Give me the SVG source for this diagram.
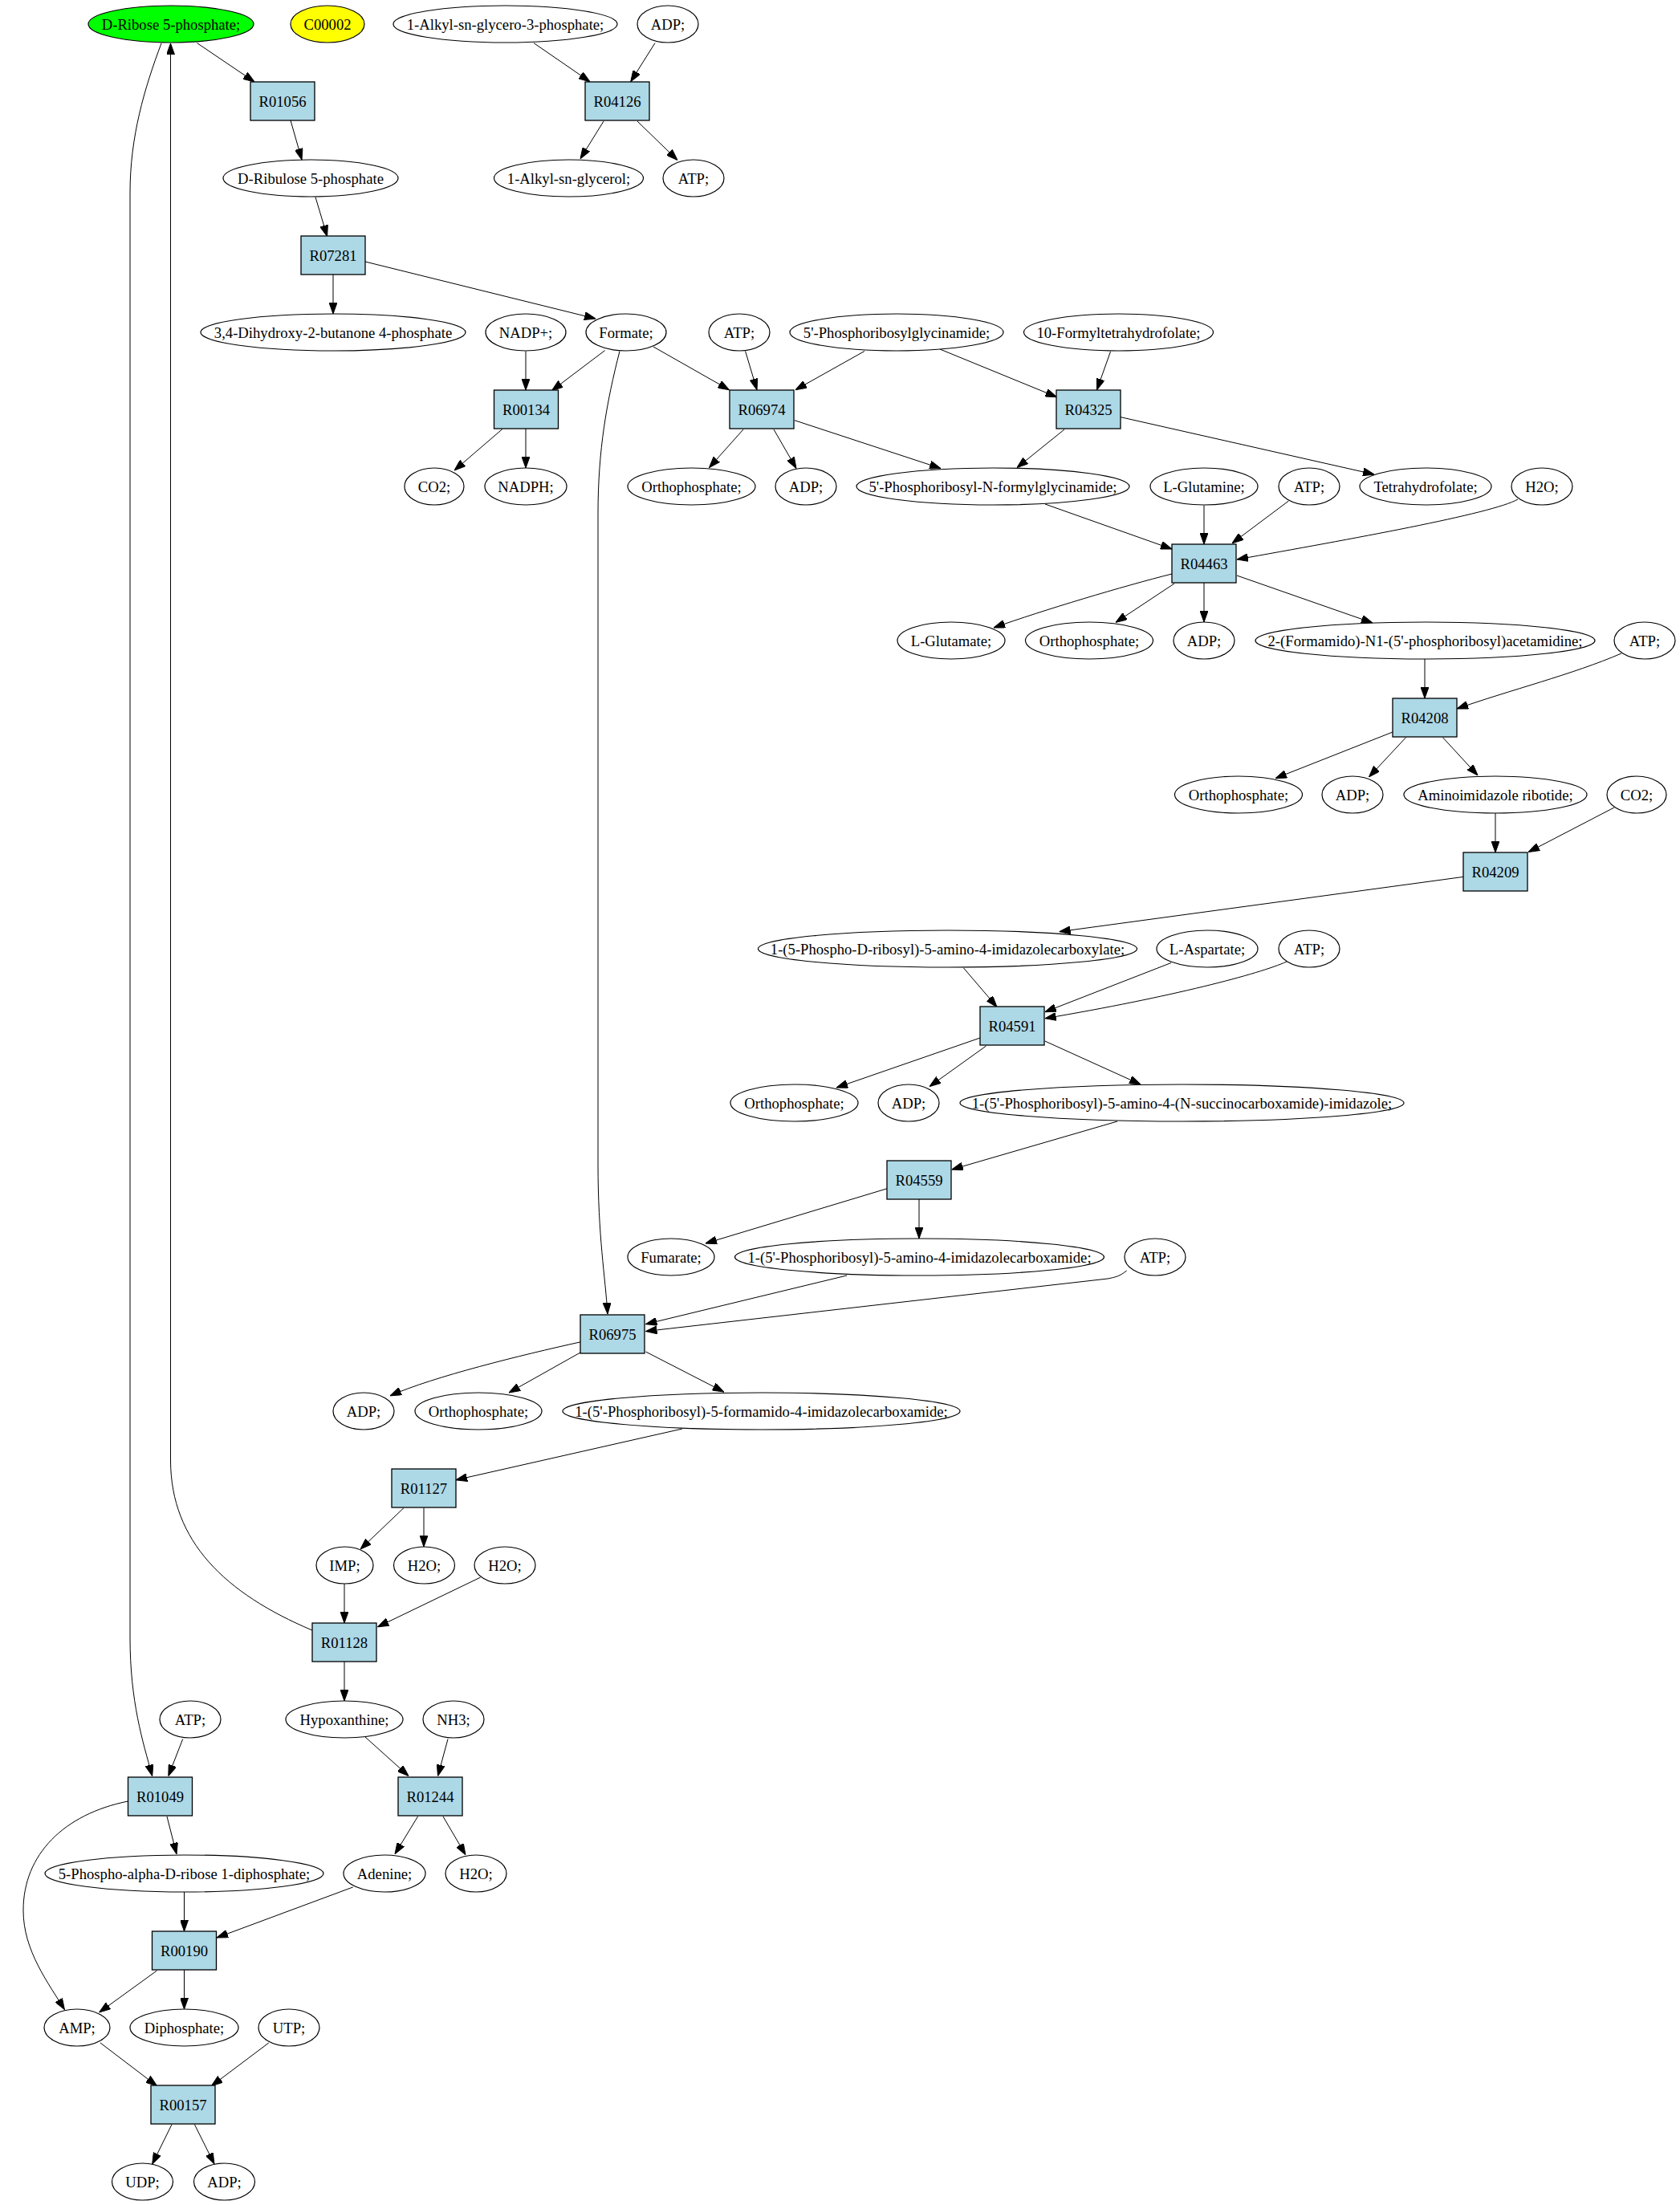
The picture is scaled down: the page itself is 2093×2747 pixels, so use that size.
<svg xmlns="http://www.w3.org/2000/svg" width="2093" height="2747" viewBox="0 0 2093 2747">
<style>
.n ellipse{fill:#ffffff;stroke:#000;stroke-width:1.2}
.r rect{fill:#add8e6;stroke:#000;stroke-width:1.3}
text{font-family:"Liberation Serif","Times New Roman",serif;font-size:18.67px;text-anchor:middle;fill:#000}
#edges path{fill:none;stroke:#000;stroke-width:1;marker-end:url(#ah)}
</style>
<defs>
<marker id="ah" markerUnits="userSpaceOnUse" markerWidth="14" markerHeight="10" viewBox="0 0 14 10" refX="14" refY="5" orient="auto">
<path d="M0,0 L14,5 L0,10 z" fill="#000" stroke="#000" stroke-width="1"/>
</marker>
</defs>
<rect x="0" y="0" width="2093" height="2747" fill="#ffffff"/>
<g id="edges">
<path d="M245.5,53.6 L317,102"/>
<path d="M362,150 L376,199"/>
<path d="M393,245.5 L407.6,294.6"/>
<path d="M415,342 L415,391"/>
<path d="M455,326 L742,397"/>
<path d="M655,437.5 L655,486"/>
<path d="M753.6,436.6 L687.5,486.6"/>
<path d="M814,432 L908.5,485.7"/>
<path d="M772,437.5 C756,500 745,560 745,640 L745,1450 C745,1540 754,1590 757,1637"/>
<path d="M626,534.4 L566,586"/>
<path d="M655,534 L655,583"/>
<path d="M928.6,437.5 L943,485.7"/>
<path d="M1077,437.5 L991,485.7"/>
<path d="M1171,435 L1316.5,494.6"/>
<path d="M1383.5,438 L1366.5,485.7"/>
<path d="M1396,519.6 L1712,591"/>
<path d="M926,535 L883.5,582.6"/>
<path d="M964,535 L992,583.5"/>
<path d="M990,523.7 L1172,583.5"/>
<path d="M1326,535 L1267,582.6"/>
<path d="M1302,628 L1460,684"/>
<path d="M1500,629.5 L1500,678"/>
<path d="M1605.5,624 L1535,676.8"/>
<path d="M1891,622 C1860,640 1680,672 1541,697"/>
<path d="M1460,715 C1400,730 1300,760 1238,782"/>
<path d="M1463,727 L1390,775.4"/>
<path d="M1500,726 L1500,775"/>
<path d="M1541,717 L1710,776"/>
<path d="M1775,821 L1775,870"/>
<path d="M2020,814 C1960,840 1880,860 1815,883"/>
<path d="M1735,912 L1589,969.6"/>
<path d="M1751.5,918.75 L1705.5,968"/>
<path d="M1797.5,918.75 L1841,966"/>
<path d="M1863,1013 L1863,1062"/>
<path d="M2011,1006 L1904,1061.6"/>
<path d="M1823,1092.4 L1319.6,1160.7"/>
<path d="M1200.4,1205.8 L1242,1254.5"/>
<path d="M1459,1199.5 L1301.8,1260.7"/>
<path d="M1603,1198 C1570,1213 1460,1242 1301.8,1268.75"/>
<path d="M1221.4,1292.9 L1042,1355"/>
<path d="M1228.6,1303 L1158,1353.6"/>
<path d="M1301.8,1297 L1421,1351"/>
<path d="M1392,1397 L1185.7,1457"/>
<path d="M1105,1480.8 L879,1549"/>
<path d="M1145,1494 L1145,1543"/>
<path d="M1055,1589 L804.5,1649.6"/>
<path d="M1403.6,1583 C1395,1590 1390,1591 1380,1593 L804.5,1658.5"/>
<path d="M723,1671.9 C650,1688 540,1715 486,1738.8"/>
<path d="M723,1685 L634,1735"/>
<path d="M804.5,1684 L901.8,1734"/>
<path d="M850,1780 L568,1843.75"/>
<path d="M503,1878.6 L449,1930"/>
<path d="M528,1878.6 L528,1927"/>
<path d="M429,1973 L429,2022"/>
<path d="M598.7,1965 L470.5,2026.8"/>
<path d="M389,2031 C280,1985 213,1920 212.5,1820 L212.5,54"/>
<path d="M201,54 C180,110 162,170 162,240 L162,2040 C162,2120 178,2170 189.7,2212.5"/>
<path d="M227.7,2166.5 L209.8,2212.5"/>
<path d="M208,2263 L220,2309.8"/>
<path d="M159.4,2244 C80,2260 29,2310 29,2380 C29,2430 60,2470 80.4,2503.6"/>
<path d="M429,2070 L429,2119"/>
<path d="M455,2164 L509,2212.5"/>
<path d="M558,2166.5 L545.5,2212.5"/>
<path d="M520.5,2263 L492,2309.8"/>
<path d="M552,2263 L580,2310.7"/>
<path d="M229.5,2357 L229.5,2406"/>
<path d="M439.7,2351 L270,2414"/>
<path d="M195.5,2455 L123.7,2507"/>
<path d="M229.5,2454 L229.5,2503"/>
<path d="M125,2545 L195.5,2598.7"/>
<path d="M334.8,2545 L263.4,2598.7"/>
<path d="M214,2646.7 L189.7,2696"/>
<path d="M242.4,2646.7 L267,2696"/>
<path d="M665,53.6 L735,101.8"/>
<path d="M816,53.6 L785.7,101.8"/>
<path d="M752,151 L723,197.8"/>
<path d="M794,151 L844,199.5"/>
</g>
<g id="n_dribose" class="n"><ellipse cx="213" cy="30" rx="103" ry="23" style="fill:#00ff00"/><text x="213" y="36.5">D-Ribose 5-phosphate;</text></g>
<g id="n_c00002" class="n"><ellipse cx="408" cy="30" rx="46" ry="23" style="fill:#ffff00"/><text x="408" y="36.5">C00002</text></g>
<g id="n_alkylg3p" class="n"><ellipse cx="629.5" cy="30" rx="139.5" ry="23"/><text x="629.5" y="36.5">1-Alkyl-sn-glycero-3-phosphate;</text></g>
<g id="n_adp1" class="n"><ellipse cx="832" cy="30" rx="38" ry="23"/><text x="832" y="36.5">ADP;</text></g>
<g id="n_dribulose" class="n"><ellipse cx="387" cy="222" rx="109" ry="23"/><text x="387" y="228.5">D-Ribulose 5-phosphate</text></g>
<g id="n_alkylgly" class="n"><ellipse cx="708.5" cy="222" rx="93" ry="23"/><text x="708.5" y="228.5">1-Alkyl-sn-glycerol;</text></g>
<g id="n_atp1" class="n"><ellipse cx="864" cy="222" rx="38" ry="23"/><text x="864" y="228.5">ATP;</text></g>
<g id="n_dihydroxy" class="n"><ellipse cx="415" cy="414" rx="165" ry="23"/><text x="415" y="420.5">3,4-Dihydroxy-2-butanone 4-phosphate</text></g>
<g id="n_nadp" class="n"><ellipse cx="655" cy="414" rx="50" ry="23"/><text x="655" y="420.5">NADP+;</text></g>
<g id="n_formate" class="n"><ellipse cx="780" cy="414" rx="50" ry="23"/><text x="780" y="420.5">Formate;</text></g>
<g id="n_atp2" class="n"><ellipse cx="921" cy="414" rx="38" ry="23"/><text x="921" y="420.5">ATP;</text></g>
<g id="n_prg" class="n"><ellipse cx="1117" cy="414" rx="133" ry="23"/><text x="1117" y="420.5">5'-Phosphoribosylglycinamide;</text></g>
<g id="n_10f" class="n"><ellipse cx="1393.5" cy="414" rx="118" ry="23"/><text x="1393.5" y="420.5">10-Formyltetrahydrofolate;</text></g>
<g id="n_co2" class="n"><ellipse cx="541" cy="606" rx="37" ry="23"/><text x="541" y="612.5">CO2;</text></g>
<g id="n_nadph" class="n"><ellipse cx="655" cy="606" rx="51" ry="23"/><text x="655" y="612.5">NADPH;</text></g>
<g id="n_ortho1" class="n"><ellipse cx="861.5" cy="606" rx="79.5" ry="23"/><text x="861.5" y="612.5">Orthophosphate;</text></g>
<g id="n_adp2" class="n"><ellipse cx="1004" cy="606" rx="38" ry="23"/><text x="1004" y="612.5">ADP;</text></g>
<g id="n_fgar" class="n"><ellipse cx="1237" cy="606" rx="170" ry="23"/><text x="1237" y="612.5">5'-Phosphoribosyl-N-formylglycinamide;</text></g>
<g id="n_gln" class="n"><ellipse cx="1500" cy="606" rx="67" ry="23"/><text x="1500" y="612.5">L-Glutamine;</text></g>
<g id="n_atp3" class="n"><ellipse cx="1631" cy="606" rx="38" ry="23"/><text x="1631" y="612.5">ATP;</text></g>
<g id="n_thf" class="n"><ellipse cx="1776" cy="606" rx="82" ry="23"/><text x="1776" y="612.5">Tetrahydrofolate;</text></g>
<g id="n_h2o1" class="n"><ellipse cx="1921" cy="606" rx="38" ry="23"/><text x="1921" y="612.5">H2O;</text></g>
<g id="n_glu" class="n"><ellipse cx="1185" cy="798" rx="67" ry="23"/><text x="1185" y="804.5">L-Glutamate;</text></g>
<g id="n_ortho2" class="n"><ellipse cx="1357" cy="798" rx="79.5" ry="23"/><text x="1357" y="804.5">Orthophosphate;</text></g>
<g id="n_adp3" class="n"><ellipse cx="1500" cy="798" rx="38" ry="23"/><text x="1500" y="804.5">ADP;</text></g>
<g id="n_fgam" class="n"><ellipse cx="1775.5" cy="798" rx="211.5" ry="23"/><text x="1775.5" y="804.5">2-(Formamido)-N1-(5'-phosphoribosyl)acetamidine;</text></g>
<g id="n_atp4" class="n"><ellipse cx="2049" cy="798" rx="38" ry="23"/><text x="2049" y="804.5">ATP;</text></g>
<g id="n_ortho3" class="n"><ellipse cx="1543" cy="990" rx="79.5" ry="23"/><text x="1543" y="996.5">Orthophosphate;</text></g>
<g id="n_adp4" class="n"><ellipse cx="1685" cy="990" rx="38" ry="23"/><text x="1685" y="996.5">ADP;</text></g>
<g id="n_air" class="n"><ellipse cx="1863" cy="990" rx="114" ry="23"/><text x="1863" y="996.5">Aminoimidazole ribotide;</text></g>
<g id="n_co2b" class="n"><ellipse cx="2039" cy="990" rx="37" ry="23"/><text x="2039" y="996.5">CO2;</text></g>
<g id="n_cair" class="n"><ellipse cx="1180.5" cy="1182" rx="236" ry="23"/><text x="1180.5" y="1188.5">1-(5-Phospho-D-ribosyl)-5-amino-4-imidazolecarboxylate;</text></g>
<g id="n_asp" class="n"><ellipse cx="1504" cy="1182" rx="63" ry="23"/><text x="1504" y="1188.5">L-Aspartate;</text></g>
<g id="n_atp5" class="n"><ellipse cx="1631" cy="1182" rx="38" ry="23"/><text x="1631" y="1188.5">ATP;</text></g>
<g id="n_ortho4" class="n"><ellipse cx="989.5" cy="1374" rx="79.5" ry="23"/><text x="989.5" y="1380.5">Orthophosphate;</text></g>
<g id="n_adp5" class="n"><ellipse cx="1132" cy="1374" rx="38" ry="23"/><text x="1132" y="1380.5">ADP;</text></g>
<g id="n_saicar" class="n"><ellipse cx="1472.5" cy="1374" rx="276.5" ry="23"/><text x="1472.5" y="1380.5">1-(5'-Phosphoribosyl)-5-amino-4-(N-succinocarboxamide)-imidazole;</text></g>
<g id="n_fum" class="n"><ellipse cx="836" cy="1566" rx="54" ry="23"/><text x="836" y="1572.5">Fumarate;</text></g>
<g id="n_aicar" class="n"><ellipse cx="1145.5" cy="1566" rx="230" ry="23"/><text x="1145.5" y="1572.5">1-(5'-Phosphoribosyl)-5-amino-4-imidazolecarboxamide;</text></g>
<g id="n_atp6" class="n"><ellipse cx="1439" cy="1566" rx="38" ry="23"/><text x="1439" y="1572.5">ATP;</text></g>
<g id="n_adp6" class="n"><ellipse cx="453" cy="1758" rx="38" ry="23"/><text x="453" y="1764.5">ADP;</text></g>
<g id="n_ortho5" class="n"><ellipse cx="596" cy="1758" rx="79" ry="23"/><text x="596" y="1764.5">Orthophosphate;</text></g>
<g id="n_faicar" class="n"><ellipse cx="948.5" cy="1758" rx="247.5" ry="23"/><text x="948.5" y="1764.5">1-(5'-Phosphoribosyl)-5-formamido-4-imidazolecarboxamide;</text></g>
<g id="n_imp" class="n"><ellipse cx="429.5" cy="1950" rx="35.5" ry="23"/><text x="429.5" y="1956.5">IMP;</text></g>
<g id="n_h2o2" class="n"><ellipse cx="528.5" cy="1950" rx="38" ry="23"/><text x="528.5" y="1956.5">H2O;</text></g>
<g id="n_h2o3" class="n"><ellipse cx="629" cy="1950" rx="38" ry="23"/><text x="629" y="1956.5">H2O;</text></g>
<g id="n_hyp" class="n"><ellipse cx="429" cy="2142" rx="73" ry="23"/><text x="429" y="2148.5">Hypoxanthine;</text></g>
<g id="n_nh3" class="n"><ellipse cx="565" cy="2142" rx="38" ry="23"/><text x="565" y="2148.5">NH3;</text></g>
<g id="n_atp7" class="n"><ellipse cx="237" cy="2142" rx="38" ry="23"/><text x="237" y="2148.5">ATP;</text></g>
<g id="n_prpp" class="n"><ellipse cx="229.5" cy="2334" rx="173.5" ry="23"/><text x="229.5" y="2340.5">5-Phospho-alpha-D-ribose 1-diphosphate;</text></g>
<g id="n_ade" class="n"><ellipse cx="479" cy="2334" rx="51" ry="23"/><text x="479" y="2340.5">Adenine;</text></g>
<g id="n_h2o4" class="n"><ellipse cx="593" cy="2334" rx="38" ry="23"/><text x="593" y="2340.5">H2O;</text></g>
<g id="n_amp" class="n"><ellipse cx="96" cy="2526" rx="41" ry="23"/><text x="96" y="2532.5">AMP;</text></g>
<g id="n_ppi" class="n"><ellipse cx="229.5" cy="2526" rx="67.5" ry="23"/><text x="229.5" y="2532.5">Diphosphate;</text></g>
<g id="n_utp" class="n"><ellipse cx="360" cy="2526" rx="38" ry="23"/><text x="360" y="2532.5">UTP;</text></g>
<g id="n_udp" class="n"><ellipse cx="177.5" cy="2718" rx="38" ry="23"/><text x="177.5" y="2724.5">UDP;</text></g>
<g id="n_adp7" class="n"><ellipse cx="279.5" cy="2718" rx="38" ry="23"/><text x="279.5" y="2724.5">ADP;</text></g>
<g id="R01056" class="r"><rect x="312" y="102" width="80" height="48"/><text x="352" y="132.5">R01056</text></g>
<g id="R04126" class="r"><rect x="729" y="102" width="80" height="48"/><text x="769" y="132.5">R04126</text></g>
<g id="R07281" class="r"><rect x="375" y="294" width="80" height="48"/><text x="415" y="324.5">R07281</text></g>
<g id="R00134" class="r"><rect x="615.5" y="486" width="80" height="48"/><text x="655.5" y="516.5">R00134</text></g>
<g id="R06974" class="r"><rect x="909" y="486" width="80" height="48"/><text x="949" y="516.5">R06974</text></g>
<g id="R04325" class="r"><rect x="1316" y="486" width="80" height="48"/><text x="1356" y="516.5">R04325</text></g>
<g id="R04463" class="r"><rect x="1460" y="678" width="80" height="48"/><text x="1500" y="708.5">R04463</text></g>
<g id="R04208" class="r"><rect x="1735" y="870" width="80" height="48"/><text x="1775" y="900.5">R04208</text></g>
<g id="R04209" class="r"><rect x="1823" y="1062" width="80" height="48"/><text x="1863" y="1092.5">R04209</text></g>
<g id="R04591" class="r"><rect x="1221" y="1254" width="80" height="48"/><text x="1261" y="1284.5">R04591</text></g>
<g id="R04559" class="r"><rect x="1105" y="1446" width="80" height="48"/><text x="1145" y="1476.5">R04559</text></g>
<g id="R06975" class="r"><rect x="723" y="1638" width="80" height="48"/><text x="763" y="1668.5">R06975</text></g>
<g id="R01127" class="r"><rect x="488" y="1830" width="80" height="48"/><text x="528" y="1860.5">R01127</text></g>
<g id="R01128" class="r"><rect x="389" y="2022" width="80" height="48"/><text x="429" y="2052.5">R01128</text></g>
<g id="R01049" class="r"><rect x="159.5" y="2214" width="80" height="48"/><text x="199.5" y="2244.5">R01049</text></g>
<g id="R01244" class="r"><rect x="496" y="2214" width="80" height="48"/><text x="536" y="2244.5">R01244</text></g>
<g id="R00190" class="r"><rect x="189.5" y="2406" width="80" height="48"/><text x="229.5" y="2436.5">R00190</text></g>
<g id="R00157" class="r"><rect x="188" y="2598" width="80" height="48"/><text x="228" y="2628.5">R00157</text></g>
</svg>
